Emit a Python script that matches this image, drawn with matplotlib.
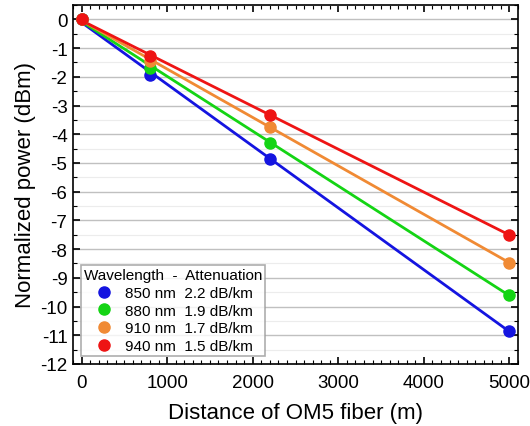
import numpy as np
import matplotlib.pyplot as plt
from matplotlib.ticker import MultipleLocator

plt.rcParams['font.family'] = ['Liberation Sans', 'DejaVu Sans']
plt.rcParams['axes.unicode_minus'] = False

# 数据
distance = [0, 800, 2200, 5000]
p850 = [0, -1.95, -4.85, -10.85]
p880 = [0, -1.68, -4.29, -9.60]
p910 = [0, -1.45, -3.74, -8.47]
p940 = [0, -1.28, -3.33, -7.50]
labels = ['850 nm  2.2 dB/km', '880 nm  1.9 dB/km', '910 nm  1.7 dB/km', '940 nm  1.5 dB/km']
colors = ['#1414e0', '#14d414', '#f08a34', '#ee1414']

fig = plt.figure(figsize=(5.3, 4.27), dpi=100)
ax = fig.add_axes([73 / 530, 1 - 365 / 427, 445 / 530, 359 / 427])

series = [p850, p880, p910, p940]
x = np.array(distance)
for y, c, lab in zip(series, colors, labels):
    k, b = np.polyfit(x, y, 1)
    ax.plot([x[0], x[-1]], [k * x[0] + b, k * x[-1] + b], color=c, lw=2, zorder=3)
    ax.plot(x, y, 'o', color=c, ms=8, label=lab, zorder=4)

ax.set_xlim(-100, 5100)
ax.set_ylim(-12, 0.5)
ax.xaxis.set_major_locator(MultipleLocator(1000))
ax.xaxis.set_minor_locator(MultipleLocator(100))
ax.yaxis.set_major_locator(MultipleLocator(1))
ax.yaxis.set_minor_locator(MultipleLocator(0.5))
ax.tick_params(which='both', direction='in', top=True, right=True, labelsize=13.5)
ax.tick_params(which='major', length=5, width=1.2)
ax.tick_params(which='minor', length=3, width=0.8)
ax.tick_params(axis='x', pad=7)
ax.tick_params(axis='y', pad=4)
ax.grid(axis='y', which='major', color='#c0c0c0', lw=1)
ax.grid(axis='y', which='minor', color='#ececec', lw=0.8)
ax.set_axisbelow(True)
for s in ax.spines.values():
    s.set_linewidth(1.2)

ax.set_xlabel('Distance of OM5 fiber (m)', fontsize=16, labelpad=8)
ax.set_ylabel('Normalized power (dBm)', fontsize=16, labelpad=3)

leg = ax.legend(title='Wavelength  -  Attenuation', loc='lower left', fontsize=11,
                title_fontsize=11, fancybox=False, edgecolor='#999999',
                handletextpad=0.6, borderaxespad=0.5, labelspacing=0.25,
                borderpad=0.2, handlelength=1.5)
leg.get_frame().set_linewidth(1.2)

plt.savefig('out.png', dpi=100)
